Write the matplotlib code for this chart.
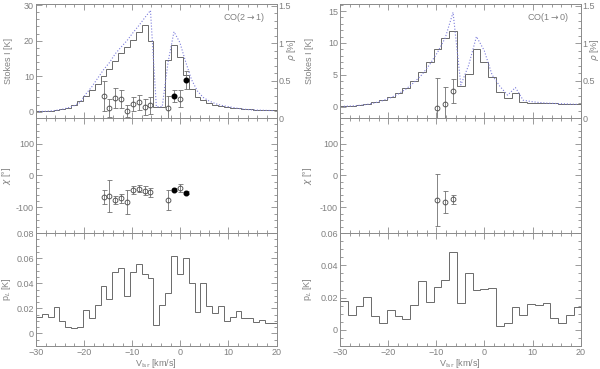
import matplotlib
matplotlib.use('Agg')
import matplotlib.pyplot as plt
from matplotlib.ticker import MultipleLocator, FuncFormatter
import numpy as np

plt.rcParams['font.family'] = ['Liberation Sans', 'DejaVu Sans']
plt.rcParams['font.size'] = 6.5

# ---- CO(2-1) channels ----
co21_start = -30.0
co21_width = 1.22
co21_stokes = [0.1, 0.15, 0.3, 0.5, 0.8, 1.1, 1.9, 3.0, 4.5, 6.0, 7.7, 10.0, 12.0, 14.3,
               16.4, 18.3, 20.3, 22.5, 24.5, 19.8, 1.4, 1.4, 14.5, 18.7, 15.5, 10.3, 6.5,
               4.2, 3.2, 2.5, 2.0, 1.6, 1.3, 1.1, 0.9, 0.75, 0.65, 0.55, 0.5, 0.5, 0.5]
co21_model = [0.05, 0.1, 0.2, 0.4, 0.7, 1.1, 1.7, 2.6, 5.0, 7.0, 9.4, 11.8, 13.8, 16.3,
              18.2, 20.0, 22.2, 24.2, 26.4, 28.5, 1.4, 1.4, 14.0, 22.5, 19.5, 14.0, 9.0,
              5.8, 4.0, 3.0, 2.3, 1.8, 1.5, 1.2, 0.9, 0.7, 0.55, 0.45, 0.4, 0.35, 0.3]
co21_pl = [0.013, 0.0154, 0.013, 0.021, 0.010, 0.0054, 0.004, 0.0054, 0.019, 0.012,
           0.0227, 0.038, 0.0275, 0.0486, 0.052, 0.030, 0.0486, 0.055, 0.047, 0.044,
           0.007, 0.0227, 0.032, 0.0616, 0.047, 0.060, 0.040, 0.0168, 0.0405, 0.022,
           0.016, 0.022, 0.010, 0.013, 0.018, 0.012, 0.012, 0.009, 0.011, 0.0085, 0.008]

co21_v_open = [-15.97, -14.75, -13.53, -12.31, -11.09, -9.87, -8.65, -7.43, -6.21, -2.55, -0.11]
co21_rho_open = [0.30, 0.13, 0.27, 0.25, 0.09, 0.19, 0.21, 0.15, 0.17, 0.14, 0.26]
co21_rho_open_err = [0.20, 0.12, 0.13, 0.12, 0.08, 0.09, 0.10, 0.11, 0.11, 0.15, 0.11]
co21_chi_open = [-68, -64, -77, -72, -83, -45, -42, -48, -53, -77, -40]
co21_chi_open_err = [21, 49, 13, 14, 38, 13, 11, 14, 15, 32, 13]

co21_v_fill = [-1.33, 1.11]
co21_rho_fill = [0.29, 0.51]
co21_rho_fill_err = [0.08, 0.12]
co21_chi_fill = [-45, -54]
co21_chi_fill_err = [5, 5]

# ---- CO(1-0) channels ----
co10_start = -30.0
co10_width = 1.62
co10_stokes = [0.1, 0.12, 0.2, 0.35, 0.65, 1.0, 1.45, 2.1, 2.9, 4.0, 5.5, 7.0, 9.0, 10.8,
               11.8, 3.2, 5.1, 9.0, 7.0, 4.6, 2.3, 1.3, 2.1, 0.7, 0.6, 0.55, 0.5, 0.5,
               0.45, 0.45, 0.4]
co10_model = [0.05, 0.1, 0.2, 0.35, 0.6, 0.95, 1.4, 2.0, 2.8, 3.8, 5.0, 6.6, 8.5, 10.8,
              14.8, 3.4, 6.5, 11.0, 8.8, 5.0, 3.2, 1.8, 3.0, 1.0, 0.8, 0.65, 0.55, 0.5,
              0.45, 0.4, 0.35]
co10_pl = [0.0176, 0.0092, 0.0145, 0.0204, 0.0086, 0.0043, 0.0122, 0.0086, 0.0065, 0.0155,
           0.030, 0.0173, 0.0265, 0.031, 0.048, 0.0165, 0.035, 0.0245, 0.0255, 0.026,
           0.0022, 0.0043, 0.0143, 0.0094, 0.016, 0.0155, 0.0165, 0.0071, 0.0043, 0.0094,
           0.0143]

co10_v_open = [-9.75, -8.13, -6.51]
co10_rho_open = [0.14, 0.19, 0.36]
co10_rho_open_err = [0.40, 0.23, 0.16]
co10_chi_open = [-77, -84, -75]
co10_chi_open_err = [81, 35, 14]

line_col = '#6a6a6a'
frame_col = '#8a8a8a'
text_col = '#808080'
model_col = '#7c7cdc'

fig = plt.figure(figsize=(6.0, 3.69), dpi=100)

gfmt = FuncFormatter(lambda x, p: '%g' % x)


def style(ax, xlabels=False):
    for s in ax.spines.values():
        s.set_color(frame_col)
        s.set_linewidth(0.7)
    ax.tick_params(which='both', direction='in', colors=frame_col, labelcolor=text_col,
                   top=True, right=True, labelsize=6.5, width=0.6, pad=1.5)
    ax.tick_params(which='major', length=4)
    ax.tick_params(which='minor', length=2)
    ax.set_xlim(-30, 20)
    ax.xaxis.set_major_locator(MultipleLocator(10))
    ax.xaxis.set_minor_locator(MultipleLocator(2))
    ax.yaxis.set_major_formatter(gfmt)
    if not xlabels:
        ax.tick_params(labelbottom=False)
    else:
        ax.set_xlabel('V$_{\\rm lsr}$ [km/s]', color=text_col, labelpad=0)


cols = [
    dict(x0=0.060, lab_x=-0.095, rho_x=1.035, start=co21_start, width=co21_width,
         stokes=co21_stokes, model=co21_model, pl=co21_pl, ylim_i=(-1.8, 30.3),
         i_major=10, i_minor=2, pl_top=0.08, name='CO(2$\\rightarrow$1)',
         v_open=co21_v_open, rho_open=co21_rho_open, rho_open_err=co21_rho_open_err,
         chi_open=co21_chi_open, chi_open_err=co21_chi_open_err,
         v_fill=co21_v_fill, rho_fill=co21_rho_fill, rho_fill_err=co21_rho_fill_err,
         chi_fill=co21_chi_fill, chi_fill_err=co21_chi_fill_err),
    dict(x0=0.5667, lab_x=-0.11, rho_x=1.03, start=co10_start, width=co10_width,
         stokes=co10_stokes, model=co10_model, pl=co10_pl, ylim_i=(-1.8, 16.1),
         i_major=5, i_minor=1, pl_top=0.06, name='CO(1$\\rightarrow$0)',
         v_open=co10_v_open, rho_open=co10_rho_open, rho_open_err=co10_rho_open_err,
         chi_open=co10_chi_open, chi_open_err=co10_chi_open_err,
         v_fill=[], rho_fill=[], rho_fill_err=[], chi_fill=[], chi_fill_err=[]),
]

eb_open = dict(fmt='o', ms=3.5, mfc='none', mec='#444444', mew=0.6, ecolor='#707070',
               elinewidth=0.6, capsize=1.8, capthick=0.6)
eb_fill = dict(fmt='o', ms=3.3, mfc='black', mec='black', ecolor='#707070',
               elinewidth=0.6, capsize=1.8, capthick=0.6)

w = 0.401
for c in cols:
    n = len(c['stokes'])
    edges = c['start'] + c['width'] * np.arange(n + 1)
    centers = 0.5 * (edges[:-1] + edges[1:])

    # top: Stokes I + rho
    ax1 = fig.add_axes([c['x0'], 0.680, w, 0.309])
    style(ax1)
    ax1.tick_params(right=False)
    ax1.stairs(c['stokes'], edges, baseline=None, color=line_col, lw=0.7)
    ax1.plot(centers, c['model'], ':', color=model_col, lw=0.8)
    ax1.set_ylim(*c['ylim_i'])
    ax1.yaxis.set_major_locator(MultipleLocator(c['i_major']))
    ax1.yaxis.set_minor_locator(MultipleLocator(c['i_minor']))
    ax1.set_ylabel('Stokes I [K]', color=text_col)
    ax1.yaxis.set_label_coords(c['lab_x'], 0.5)
    ax1.text(0.95, 0.88, c['name'], transform=ax1.transAxes, ha='right', va='center',
             color=text_col, fontsize=6.5)

    ax2 = ax1.twinx()
    ax2.set_position([c['x0'], 0.680, w, 0.309])
    for s in ax2.spines.values():
        s.set_visible(False)
    ax2.tick_params(which='both', direction='in', colors=frame_col, labelcolor=text_col,
                    labelsize=6.5, width=0.6, pad=1.5)
    ax2.tick_params(which='major', length=4)
    ax2.tick_params(which='minor', length=2)
    ax2.set_ylim(0, 1.52)
    ax2.yaxis.set_major_locator(MultipleLocator(0.5))
    ax2.yaxis.set_minor_locator(MultipleLocator(0.1))
    ax2.yaxis.set_major_formatter(gfmt)
    ax2.set_ylabel('$\\rho$ [%]', color=text_col, rotation=90)
    ax2.yaxis.set_label_coords(c['rho_x'], 0.6)
    ax2.errorbar(c['v_open'], c['rho_open'], yerr=c['rho_open_err'], **eb_open)
    if c['v_fill']:
        ax2.errorbar(c['v_fill'], c['rho_fill'], yerr=c['rho_fill_err'], **eb_fill)

    # middle: chi
    ax3 = fig.add_axes([c['x0'], 0.3686, w, 0.3117])
    style(ax3)
    ax3.set_ylim(-180, 180)
    ax3.yaxis.set_major_locator(MultipleLocator(100))
    ax3.yaxis.set_minor_locator(MultipleLocator(20))
    ax3.set_ylabel('$\\chi$ [°]', color=text_col)
    ax3.yaxis.set_label_coords(c['lab_x'], 0.5)
    ax3.errorbar(c['v_open'], c['chi_open'], yerr=c['chi_open_err'], **eb_open)
    if c['v_fill']:
        ax3.errorbar(c['v_fill'], c['chi_fill'], yerr=c['chi_fill_err'], **eb_fill)

    # bottom: p_L
    ax4 = fig.add_axes([c['x0'], 0.0623, w, 0.3062])
    style(ax4, xlabels=True)
    ax4.stairs(c['pl'], edges, baseline=None, color=line_col, lw=0.7)
    ax4.set_ylim(-0.01, c['pl_top'])
    ax4.yaxis.set_major_locator(MultipleLocator(0.02))
    ax4.yaxis.set_minor_locator(MultipleLocator(0.005))
    ax4.set_ylabel('p$_L$ [K]', color=text_col)
    ax4.yaxis.set_label_coords(c['lab_x'], 0.5)

fig.savefig('out.png', dpi=100)
